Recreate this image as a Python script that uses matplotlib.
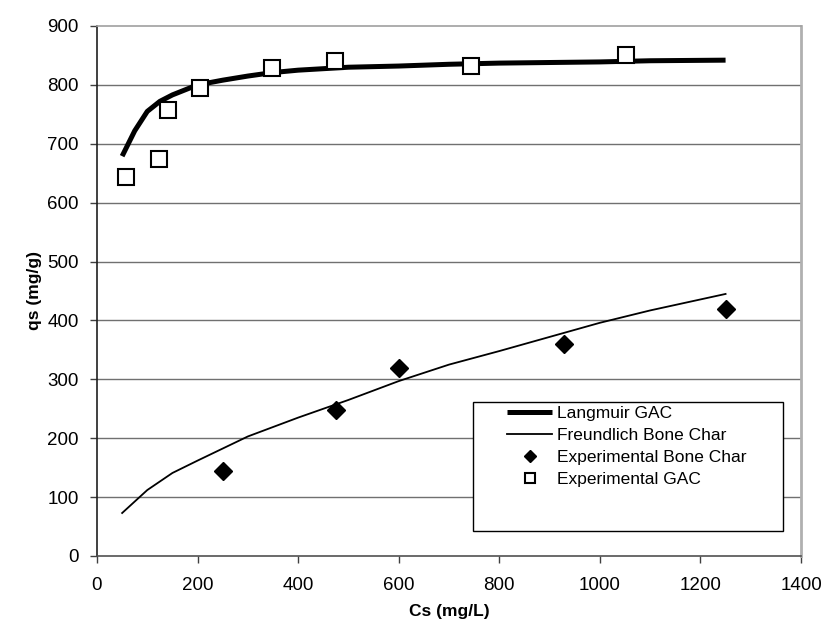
import matplotlib
matplotlib.use("Agg")
import matplotlib.pyplot as plt
from matplotlib.patches import Rectangle

plt.rcParams['font.family'] = ['Liberation Sans', 'DejaVu Sans']

# Langmuir GAC model curve
lang_x = [50, 75, 100, 125, 150, 200, 250, 300, 350, 400, 500, 600, 700, 800, 900, 1000, 1100, 1250]
lang_y = [679, 722, 755, 772, 783, 800, 808, 815, 821, 825, 830, 832, 835, 837, 838, 839, 841, 842]

# Freundlich Bone Char model curve
freu_x = [50, 100, 150, 200, 300, 400, 500, 600, 700, 800, 900, 1000, 1100, 1250]
freu_y = [73, 112, 141, 162, 203, 235, 265, 297, 325, 348, 372, 396, 417, 445]

# Experimental Bone Char
bone_x = [250, 475, 600, 928, 1250]
bone_y = [145, 248, 320, 360, 419]

# Experimental GAC
gac_x = [58, 124, 142, 205, 349, 473, 744, 1052]
gac_y = [643, 675, 757, 794, 829, 841, 832, 851]

xticks = [0, 200, 400, 600, 800, 1000, 1200, 1400]
yticks = [0, 100, 200, 300, 400, 500, 600, 700, 800, 900]

fig = plt.figure(figsize=(8.25, 6.32), dpi=100)
ax = fig.add_axes([97/825, 76/632, 704/825, 530/632])

ax.set_xlim(0, 1400)
ax.set_ylim(0, 900)
ax.set_xticks(xticks)
ax.set_yticks(yticks)
ax.tick_params(axis='both', labelsize=13.5, direction='out', length=5, width=1, color='#404040', pad=8)
ax.tick_params(axis='x', pad=10)

for y in yticks[1:-1]:
    ax.axhline(y, color='#707070', lw=1, zorder=0)

ax.spines['top'].set_color('#a0a0a0')
ax.spines['top'].set_linewidth(1.2)
ax.spines['right'].set_color('#b0b0b0')
ax.spines['right'].set_linewidth(2)
ax.spines['left'].set_color('#202020')
ax.spines['left'].set_linewidth(1.2)
ax.spines['bottom'].set_color('#505050')
ax.spines['bottom'].set_linewidth(1.2)

l1, = ax.plot(lang_x, lang_y, color='black', lw=3.6, solid_capstyle='butt', label='Langmuir GAC', zorder=3)
l2, = ax.plot(freu_x, freu_y, color='black', lw=1.3, label='Freundlich Bone Char', zorder=3)
l3, = ax.plot(bone_x, bone_y, ls='none', marker='D', ms=9, color='black', label='Experimental Bone Char', zorder=4)
l4, = ax.plot(gac_x, gac_y, ls='none', marker='s', ms=11, mfc='white', mec='black', mew=1.5, label='Experimental GAC', zorder=4)

ax.set_xlabel('Cs (mg/L)', fontsize=12.5, fontweight='bold', labelpad=7)
ax.set_ylabel('qs (mg/g)', fontsize=12.5, fontweight='bold', labelpad=4)

# legend frame
ax.add_patch(Rectangle((0.534, 0.047), 0.44, 0.244, transform=ax.transAxes,
                       facecolor='white', edgecolor='black', lw=1, zorder=5))

leg = ax.legend(handles=[l1, l2, l3, l4], loc='upper left',
                bbox_to_anchor=(507/825, 1 - 406/632), bbox_transform=fig.transFigure,
                frameon=False, fontsize=12.5, handlelength=2.6, handletextpad=0.3,
                labelspacing=0.4, borderpad=0, borderaxespad=0, markerscale=0.7)
leg.set_zorder(6)

fig.savefig('out.png', dpi=100)
